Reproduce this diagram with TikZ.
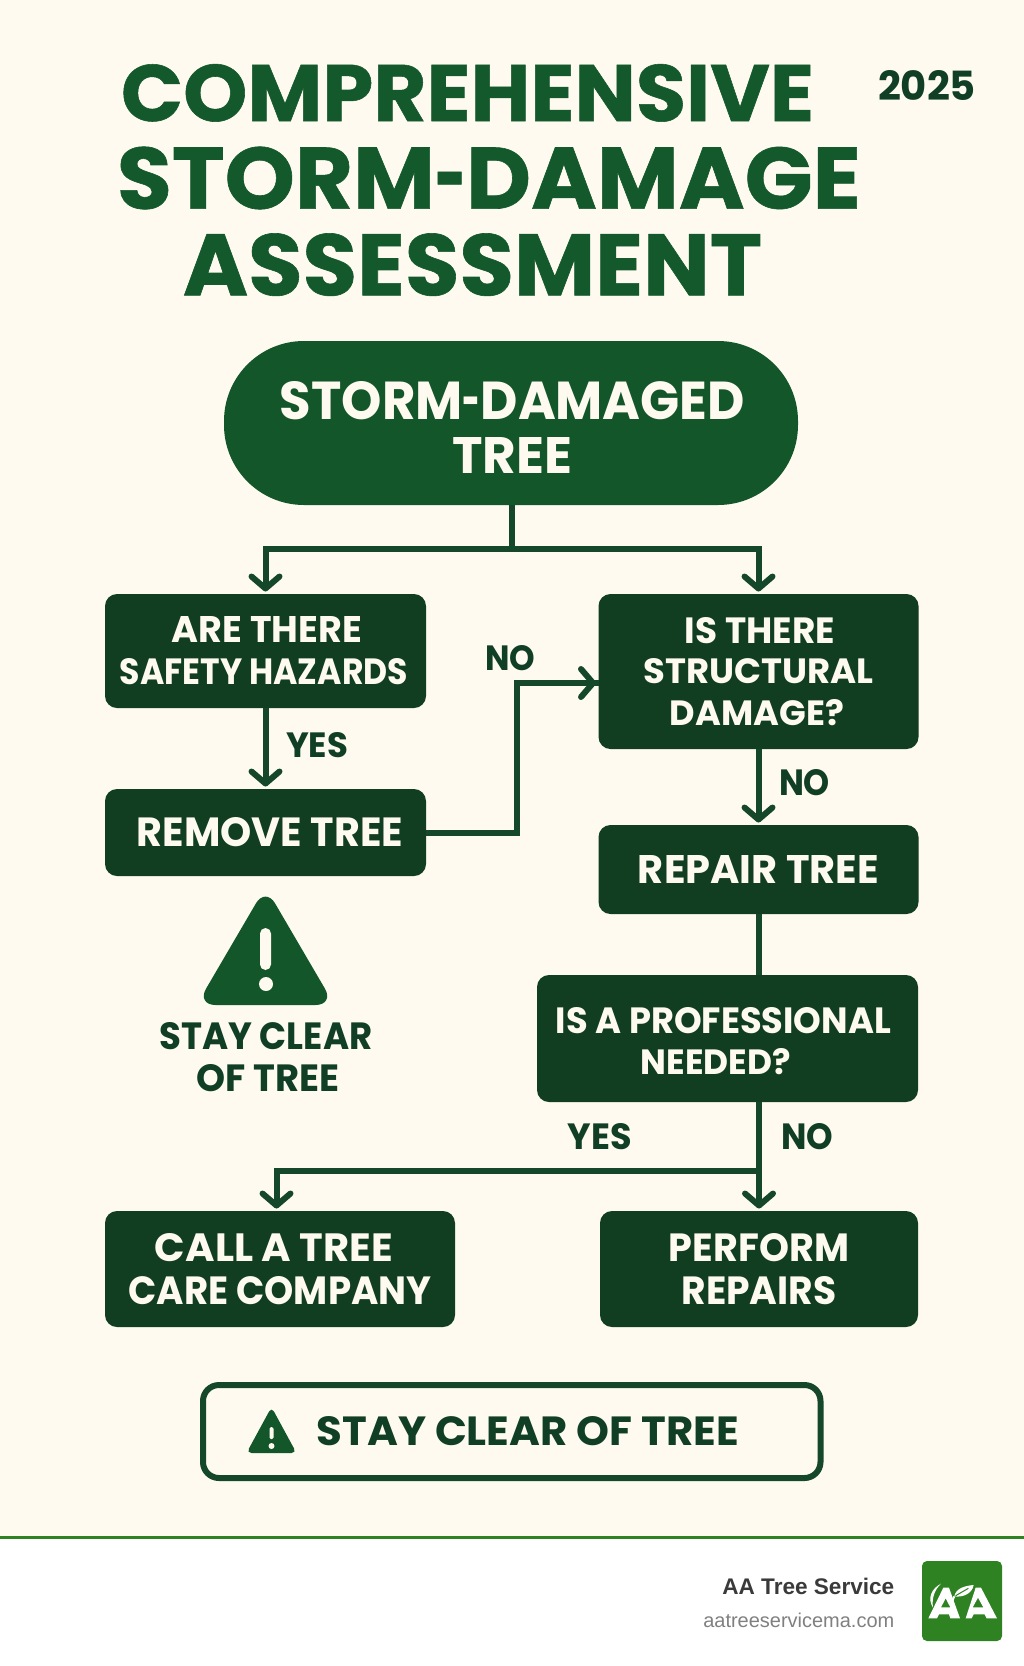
\documentclass[tikz,border=0pt]{standalone}
\usepackage{graphicx}
\usepackage{fontspec}
\setmainfont{Poppins}
\newfontfamily\footfont{Liberation Sans}
\newfontfamily\titlefont{Poppins}[BoldFeatures={FakeBold=0.7}]
\usetikzlibrary{arrows.meta}
\definecolor{pagebg}{HTML}{FEFAEF}
\definecolor{titlegreen}{HTML}{14592C}
\definecolor{pillgreen}{HTML}{13562A}
\definecolor{boxgreen}{HTML}{113D20}
\definecolor{linegreen}{HTML}{15472B}
\definecolor{labelgreen}{HTML}{103F26}
\definecolor{brandgreen}{HTML}{2E8222}
\definecolor{footdark}{HTML}{3A3A3A}
\definecolor{footgray}{HTML}{808080}
% width, height (cap height) of a line, with optional horizontal offset
\newcommand\fitt[4][0]{\kern#1pt\resizebox{#2pt}{#3pt}{#4}\kern-#1pt}
\newcommand\stacklines[1]{\vbox{\offinterlineskip\halign{\hfil##\hfil\cr#1\crcr}}}
\newcommand\gapp[1]{\noalign{\vskip#1pt}}
\newcommand\lowered[2]{\raisebox{-#1pt}[\height][\depth]{#2}}
\newcommand\shorthyphen{\scalebox{0.6}[1]{-}}
\tikzset{
  flowbox/.style={fill=boxgreen,text=pagebg,rounded corners=12pt,inner sep=0pt,outer sep=0pt,font=\bfseries,anchor=center},
  pillbox/.style={fill=pillgreen,text=pagebg,rounded corners=80pt,inner sep=0pt,outer sep=0pt,font=\bfseries},
  edgelabel/.style={text=labelgreen,inner sep=0pt,font=\bfseries},
  conn/.style={draw=linegreen,line width=6pt,line join=miter},
  connarrow/.style={conn,-{Straight Barb[length=12pt,width=28pt,line width=6pt,round]},shorten >=2.5pt},
}
\begin{document}
\begin{tikzpicture}[x=1pt,y=-1pt]
\useasboundingbox (0,0) rectangle (1024,1666);
\fill[pagebg] (0,0) rectangle (1024,1536);
\fill[white] (0,1536) rectangle (1024,1666);
\fill[brandgreen] (0,1536) rectangle (1024,1539);

% title
\node[inner sep=0pt,text=titlegreen,font=\titlefont\bfseries] (title) at (480,180)
  {\stacklines{\fitt[-12.5]{693}{57}{COMPREHENSIVE}\cr\gapp{25}
               \fitt[9]{744}{62}{STORM\shorthyphen DAMAGE}\cr\gapp{24}
               \fitt[-7.5]{579}{62}{ASSESSMENT}}};
\node[inner sep=0pt,text=labelgreen,font=\bfseries] (year) at (927,85) {\fitt{98}{30}{2025}};

% flow nodes
\node[pillbox,minimum width=574pt,minimum height=164pt] (start) at (511,423)
  {\lowered{4.5}{\stacklines{\fitt[1.5]{465}{38}{STORM\shorthyphen DAMAGED}\cr\gapp{17}\fitt[1]{120}{36}{TREE}}}};
\node[flowbox,minimum width=321pt,minimum height=114pt] (hazard) at (265.5,651)
  {\stacklines{\fitt[1.5]{190}{26}{ARE THERE}\cr\gapp{16}\fitt[-1.5]{288}{26}{SAFETY HAZARDS}}};
\node[flowbox,minimum width=321pt,minimum height=87pt] (remove) at (265.5,832.5)
  {\fitt[4.5]{266}{29}{REMOVE TREE}};
\node[flowbox,minimum width=320pt,minimum height=155pt] (struct) at (758.5,671.5)
  {\stacklines{\fitt[1.5]{150}{26}{IS THERE}\cr\gapp{15}\fitt{230}{25}{STRUCTURAL}\cr\gapp{15}\fitt[-1.5]{174}{26}{DAMAGE?}}};
\node[flowbox,minimum width=320pt,minimum height=89pt] (repair) at (758.5,869.5)
  {\fitt{241}{28}{REPAIR TREE}};
\node[flowbox,minimum width=381pt,minimum height=127pt] (prof) at (727.5,1038.5)
  {\lowered{2.5}{\stacklines{\fitt[-4]{335}{26}{IS A PROFESSIONAL}\cr\gapp{14}\fitt[-11.5]{150}{26}{NEEDED?}}}};
\node[flowbox,minimum width=350pt,minimum height=116pt] (call) at (280,1269)
  {\stacklines{\fitt[-6]{238}{28}{CALL A TREE}\cr\gapp{15}\fitt{303}{28}{CARE COMPANY}}};
\node[flowbox,minimum width=318pt,minimum height=116pt] (perform) at (759,1269)
  {\stacklines{\fitt{180}{28}{PERFORM}\cr\gapp{15}\fitt{155}{28}{REPAIRS}}};

% junctions
\coordinate (split) at (512,549);
\coordinate (bend1) at (517,832.5);
\coordinate (bend2) at (517,683);
\coordinate (entry) at (598.5,683);
\coordinate (fork) at (759,1171);
\coordinate (callin) at (276.5,1211);

% connectors
\draw[conn] (start.south -| split) -- (split);
\draw[connarrow] (split) -| (hazard.north);
\draw[connarrow] (split) -| (struct.north);
\draw[connarrow] (hazard.south) -- (remove.north);
\draw[conn] (remove.east) -- (bend1) -- (bend2) -- (entry);
\draw[connarrow] (bend1) -- (bend2) -- (entry);
\draw[connarrow] (struct.south) -- (repair.north);
\draw[conn] (repair.south) -- (prof.north -| repair.south);
\draw[connarrow] (prof.south -| fork) -- (perform.north -| fork);
\draw[connarrow] (fork) -| (callin);

% edge labels
\node[edgelabel] (lblyes1) at (317,745.5) {\fitt{62}{25}{YES}};
\node[edgelabel] (lblno1) at (510,658.5) {\fitt{50}{25}{NO}};
\node[edgelabel] (lblno2) at (804.5,783) {\fitt{51}{26}{NO}};
\node[edgelabel] (lblyes2) at (600,1137) {\fitt{64}{26}{YES}};
\node[edgelabel] (lblno3) at (807,1137) {\fitt{52}{26}{NO}};

% hazard icon and caption
\fill[pillgreen,rounded corners=19pt] (265.5,887) -- (196.5,1005) -- (334.5,1005) -- cycle;
\fill[pagebg,rounded corners=5.5pt] (260,928) rectangle (271,970);
\fill[pagebg] (266,984) circle (7);
\node[edgelabel] (caption) at (266,1057)
  {\stacklines{\fitt{213}{27}{STAY CLEAR}\cr\gapp{14}\fitt[2]{143}{27}{OF TREE}}};

% warning banner
\node[draw=linegreen,line width=6pt,fill=pagebg,rounded corners=16pt,minimum width=617.5pt,minimum height=93pt,inner sep=0pt,text=labelgreen,font=\bfseries] (banner) at (511.75,1431.5)
  {\fitt[16]{422}{29}{STAY CLEAR OF TREE}};
\fill[pillgreen,rounded corners=5pt] (271.5,1407) -- (246.5,1453) -- (296.5,1453) -- cycle;
\fill[pagebg,rounded corners=1.5pt] (269.5,1427) rectangle (273.5,1439);
\fill[pagebg] (271.5,1446) circle (3);

% footer
\node[anchor=base east,inner sep=0pt,text=footdark,font=\footfont\bfseries] (brand) at (894.5,1594) {\resizebox{172pt}{!}{AA Tree Service}};
\node[anchor=base east,inner sep=0pt,text=footgray,font=\footfont] (site) at (894.5,1627) {\resizebox{191pt}{!}{aatreeservicema.com}};

% logo
\fill[brandgreen,rounded corners=5pt] (922,1561) rectangle (1002,1641);
\begin{scope}[shift={(915,1555)},x=0.3333pt,y=-0.3333pt]
  \fill[white,even odd rule] (40,190) -- (85,98) -- (102,98) -- (135,190) -- (106,190) -- (102,178) -- (72,178) -- (66,190) -- cycle
     (78,157) -- (92,130) -- (106,157) -- cycle;
  \fill[white,even odd rule] (152,190) -- (182,98) -- (198,98) -- (246,190) -- (215,190) -- (209,178) -- (176,178) -- (170,190) -- cycle
     (173,157) -- (189,128) -- (205,157) -- cycle;
  \fill[white] (78,86) .. controls (50,100) and (36,130) .. (54,158) .. controls (50,130) and (58,105) .. (78,86) -- cycle;
  \fill[white] (118,124) .. controls (122,100) and (150,92) .. (176,90) .. controls (172,115) and (145,128) .. (118,124) -- cycle;
  \draw[white,line width=2pt] (118,124) -- (108,146);
  \draw[brandgreen,line width=1pt] (122,122) -- (160,100);
\end{scope}
\end{tikzpicture}
\end{document}
